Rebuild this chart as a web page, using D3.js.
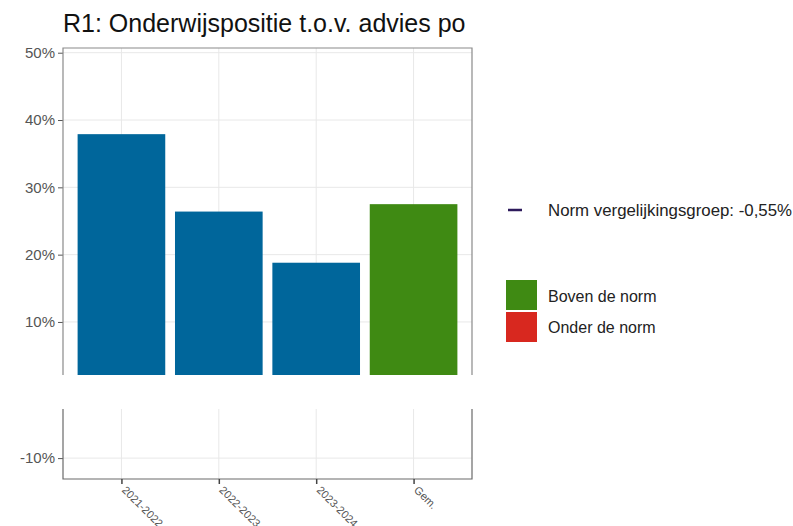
<!DOCTYPE html>
<html>
<head>
<meta charset="utf-8">
<script src="https://cdn.jsdelivr.net/npm/d3@7"></script>
<style>
  body { margin: 0; background: #fff; }
  svg { display: block; font-family: "Liberation Sans", Arial, sans-serif; }
</style>
</head>
<body>
<svg class="canvas" width="793" height="526"></svg>
<script>
// chart data
var categories = ["2021-2022", "2022-2023", "2023-2024", "Gem."];
var values = [0.379, 0.264, 0.188, 0.275];
var barGroup = ["jaar", "jaar", "jaar", "boven"];
var normValue = -0.0055;
var upperTicks = [0.1, 0.2, 0.3, 0.4, 0.5];
var lowerTicks = [-0.1];
var legendItems = ["Boven de norm", "Onder de norm"];
var legendColors = ["#3f8a13", "#d8281f"];

var colorOf = { jaar: "#00669b", boven: "#3f8a13", onder: "#d8281f" };

// plain hyphen as minus, comma as decimal mark
var nl = d3.formatLocale({ decimal: ",", thousands: ".", grouping: [3], currency: ["€", ""], minus: "-" });
var pct = nl.format(".0%");

var svg = d3.select(".canvas");
var left = 63, right = 472;

var x = d3.scalePoint().domain(categories).range([left, right]).padding(0.6);
var bw = x.step() * 0.9;

// broken y axis: upper panel and lower panel share the same px per %
var yTop = d3.scaleLinear().domain([0.0212, 0.507]).range([375, 48]);
var yBot = d3.scaleLinear().domain([-0.131, -0.0272]).range([479, 409]);

svg.append("text")
    .attr("x", 63).attr("y", 32)
    .attr("font-size", 25)
    .attr("fill", "#111")
    .text("R1: Onderwijspositie t.o.v. advies po");

function panel(y, ticks, name) {
    var g = svg.append("g");
    var y0 = y.range()[0], y1 = y.range()[1];

    g.append("clipPath").attr("id", "clip-" + name)
      .append("rect").attr("x", left).attr("y", y1)
      .attr("width", right - left).attr("height", y0 - y1);

    g.selectAll(".hgrid").data(ticks).enter().append("line")
        .attr("x1", left).attr("x2", right)
        .attr("y1", function(d) { return y(d); })
        .attr("y2", function(d) { return y(d); })
        .attr("stroke", "#e8e8e8").attr("stroke-width", 1);

    g.selectAll(".vgrid").data(categories).enter().append("line")
        .attr("x1", function(d) { return x(d); })
        .attr("x2", function(d) { return x(d); })
        .attr("y1", y1).attr("y2", y0)
        .attr("stroke", "#e8e8e8").attr("stroke-width", 1);

    g.append("g").attr("clip-path", "url(#clip-" + name + ")")
      .selectAll("rect").data(categories).enter().append("rect")
        .attr("x", function(d) { return x(d) - bw / 2; })
        .attr("width", bw)
        .attr("y", function(d, i) { return y(Math.max(values[i], 0)); })
        .attr("height", function(d, i) { return Math.abs(y(values[i]) - y(0)); })
        .attr("fill", function(d, i) { return colorOf[barGroup[i]]; });

    // norm line (falls in the gap here)
    g.append("line").attr("clip-path", "url(#clip-" + name + ")")
        .attr("x1", left).attr("x2", right)
        .attr("y1", y(normValue)).attr("y2", y(normValue))
        .attr("stroke", "#2d1a5c").attr("stroke-width", 1.5);

    var ax = g.append("g").attr("transform", "translate(" + left + ",0)")
        .call(d3.axisLeft(y).tickValues(ticks).tickFormat(pct).tickSize(5).tickPadding(3));
    ax.select(".domain").remove();
    ax.selectAll("line").attr("stroke", "#555");
    ax.selectAll("text").attr("font-size", 15).attr("fill", "#555")
        .attr("font-family", "Liberation Sans, Arial, sans-serif");

    return g;
}

var gTop = panel(yTop, upperTicks, "top");
var gBot = panel(yBot, lowerTicks, "bot");

// borders (open at the break)
gTop.append("path")
    .attr("d", "M" + left + ",375V48H" + right + "V375")
    .attr("fill", "none").attr("stroke", "#8a8a8a").attr("stroke-width", 1.2);
gBot.append("path")
    .attr("d", "M" + left + ",409V479H" + right + "V409")
    .attr("fill", "none").attr("stroke", "#6a6a6a").attr("stroke-width", 1.2);

var xa = svg.append("g").attr("transform", "translate(0,479)")
    .call(d3.axisBottom(x).tickSize(5).tickPadding(3));
xa.select(".domain").remove();
xa.selectAll("line").attr("stroke", "#444").attr("stroke-width", 1.5);
xa.selectAll("text")
    .attr("font-size", 11).attr("fill", "#555")
    .attr("font-family", "Liberation Sans, Arial, sans-serif")
    .attr("text-anchor", "start")
    .attr("x", 0).attr("y", 0)
    .attr("dy", "0.35em")
    .attr("transform", "translate(2,9) rotate(45)");

// legend
var lg = svg.append("g").attr("font-size", 16).attr("fill", "#222");
lg.append("line").attr("x1", 508).attr("x2", 522).attr("y1", 210).attr("y2", 210)
    .attr("stroke", "#2d1a5c").attr("stroke-width", 2.5);
lg.append("text").attr("x", 548).attr("y", 216)
    .attr("textLength", 244).attr("lengthAdjust", "spacingAndGlyphs")
    .text("Norm vergelijkingsgroep: " + nl.format(".2f")(normValue * 100) + "%");

lg.selectAll(".key").data(legendItems).enter().append("rect")
    .attr("x", 506).attr("y", function(d, i) { return 280 + i * 32; })
    .attr("width", 31).attr("height", 30)
    .attr("fill", function(d, i) { return legendColors[i]; });
lg.selectAll(".lab").data(legendItems).enter().append("text")
    .attr("x", 548).attr("y", function(d, i) { return 302 + i * 31; })
    .text(function(d) { return d; });
</script>
</body>
</html>
